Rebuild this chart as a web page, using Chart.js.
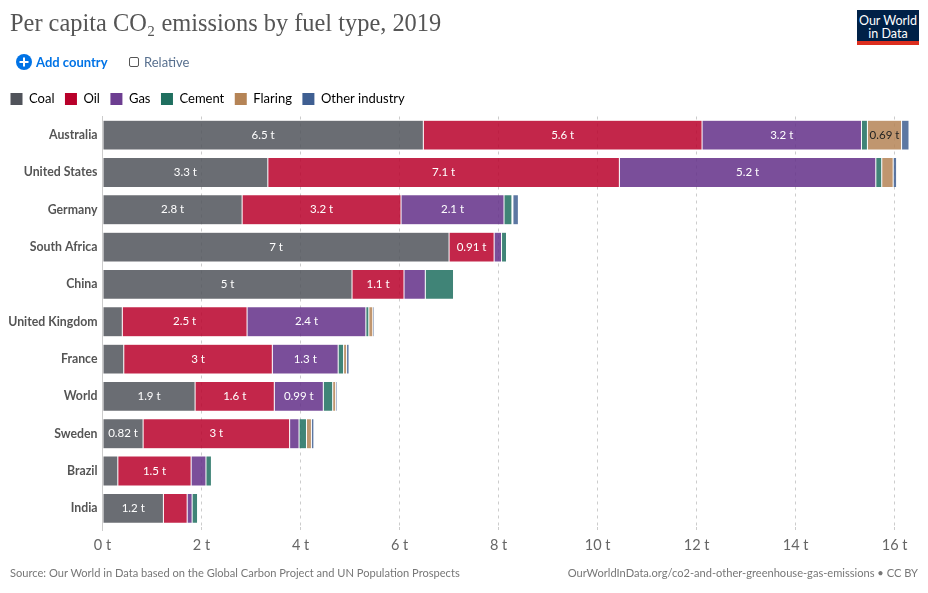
<!DOCTYPE html>
<html lang="en">

<head>
    <meta charset="UTF-8">
    <title>Per capita CO2 emissions by fuel type, 2019</title>
    <script src="https://cdn.jsdelivr.net/npm/chart.js"></script>

    <style>
        html, body { margin: 0; padding: 0; background: #fff; font-family: Lato, sans-serif; }
        .page { position: relative; width: 928px; height: 593px; overflow: hidden; }
        canvas { position: absolute; left: 0; top: 0; }
        .abs { position: absolute; white-space: nowrap; }
        .title { left: 10px; top: 8px; font: 24.4px/30px "Liberation Serif", serif; color: #555; }
        .logo { left: 857px; top: 10px; width: 62px; background: #002147; border-bottom: 4px solid #dc2e1e; color: #fff; text-align: center; font-size: 12.5px; line-height: 13px; padding-top: 4px; height: 27px; }
        .add { left: 36px; top: 54px; font-size: 13px; line-height: 16px; font-weight: 700; color: #0073e6; }
        .rel { left: 144px; top: 54px; font-size: 13px; line-height: 16px; color: #58708f; }
        .box { left: 129px; top: 57px; width: 8px; height: 8px; border: 1px solid #555; border-radius: 2px; }
        .foot { top: 566px; font-size: 11.1px; line-height: 14px; color: #777; }
    </style>
</head>

<body>
    <div class="page">
        <canvas id="fuelChart" width="928" height="593"></canvas>
        <div class="abs title">Per capita CO₂ emissions by fuel type, 2019</div>
        <div class="abs logo">Our World<br>in Data</div>
        <svg class="abs" style="left:16px;top:54px" width="16" height="16" viewBox="0 0 16 16">
            <circle cx="8" cy="8" r="8" fill="#0073e6"></circle>
            <path d="M8 3.5v9M3.5 8h9" stroke="#fff" stroke-width="2"></path>
        </svg>
        <div class="abs add">Add country</div>
        <div class="abs box"></div>
        <div class="abs rel">Relative</div>
        <div class="abs foot" style="left:10px">Source: Our World in Data based on the Global Carbon Project and UN Population Prospects</div>
        <div class="abs foot" style="right:10px">OurWorldInData.org/co2-and-other-greenhouse-gas-emissions • CC BY</div>
    </div>

    <script>
        const countries = ['Australia', 'United States', 'Germany', 'South Africa', 'China', 'United Kingdom', 'France', 'World', 'Sweden', 'Brazil', 'India'];
        const coal = [6.48, 3.34, 2.82, 7.0, 5.04, 0.4, 0.43, 1.87, 0.82, 0.31, 1.23];
        const oil = [5.63, 7.1, 3.21, 0.91, 1.05, 2.52, 3.0, 1.6, 2.96, 1.48, 0.48];
        const gas = [3.22, 5.18, 2.08, 0.15, 0.43, 2.4, 1.33, 0.99, 0.19, 0.3, 0.1];
        const cement = [0.12, 0.12, 0.16, 0.1, 0.57, 0.06, 0.11, 0.19, 0.15, 0.11, 0.11];
        const flaring = [0.69, 0.23, 0.02, 0.0, 0.0, 0.08, 0.06, 0.06, 0.1, 0.02, 0.0];
        const otherIndustry = [0.15, 0.07, 0.11, 0.02, 0.02, 0.03, 0.05, 0.03, 0.05, 0.01, 0.01];
        const tickValues = [0, 2, 4, 6, 8, 10, 12, 14, 16];

        const fuels = [
            { label: 'Coal', data: coal, color: '#50535a', fill: '#50535ad9', text: '#fff' },
            { label: 'Oil', data: oil, color: '#b8002a', fill: '#b8002ad9', text: '#fff' },
            { label: 'Gas', data: gas, color: '#6d3e91', fill: '#632f88d9', text: '#fff' },
            { label: 'Cement', data: cement, color: '#1f6f5f', fill: '#1f6f5fd9', text: '#fff' },
            { label: 'Flaring', data: flaring, color: '#b58456', fill: '#b58456d9', text: '#222' },
            { label: 'Other industry', data: otherIndustry, color: '#3f5f92', fill: '#3f5f92d9', text: '#fff' }
        ];

        // value labels inside the segments, only where the text fits
        const segmentLabels = {
            id: 'segmentLabels',
            afterDatasetsDraw(chart) {
                const ctx = chart.ctx;
                ctx.save();
                ctx.font = '11.5px Lato';
                ctx.textAlign = 'center';
                ctx.textBaseline = 'middle';
                chart.data.datasets.forEach((ds, i) => {
                    ctx.fillStyle = fuels[i].text;
                    chart.getDatasetMeta(i).data.forEach((bar, j) => {
                        const text = Number(ds.data[j].toPrecision(2)) + ' t';
                        const w = Math.abs(bar.x - bar.base);
                        if (ctx.measureText(text).width + 2 < w) {
                            ctx.fillText(text, (bar.x + bar.base) / 2, bar.y);
                        }
                    });
                });
                ctx.restore();
            }
        };

        // one more pixel of space between the legend and the bars
        const legendGap = {
            id: 'legendGap',
            beforeInit(chart) {
                const fit = chart.legend.fit;
                chart.legend.fit = function () {
                    fit.call(this);
                    this.height += 1;
                };
            }
        };

        new Chart(document.getElementById('fuelChart'), {
            type: 'bar',
            data: {
                labels: countries,
                datasets: fuels.map(f => ({
                    label: f.label,
                    data: f.data,
                    backgroundColor: f.fill,
                    borderColor: 'rgba(255,255,255,0.2)',
                    borderWidth: 0.5,
                    borderSkipped: false,
                    barPercentage: 0.8,
                    categoryPercentage: 1
                }))
            },
            plugins: [segmentLabels, legendGap],
            options: {
                indexAxis: 'y',
                responsive: false,
                animation: false,
                layout: { padding: { top: 82, right: 19, bottom: 38.5, left: 0 } },
                plugins: {
                    tooltip: { enabled: false },
                    legend: {
                        position: 'top',
                        align: 'start',
                        labels: {
                            boxWidth: 12,
                            boxHeight: 12,
                            padding: 10.5,
                            color: '#333',
                            font: { family: 'Lato', size: 13 },
                            generateLabels: chart => fuels.map((f, i) => ({
                                text: f.label,
                                fillStyle: f.color,
                                strokeStyle: f.color,
                                lineWidth: 0,
                                datasetIndex: i
                            }))
                        }
                    }
                },
                scales: {
                    x: {
                        type: 'linear',
                        stacked: true,
                        min: 0,
                        max: 16.29,
                        afterBuildTicks: axis => { axis.ticks = tickValues.map(v => ({ value: v })); },
                        afterFit: axis => { axis.height = 27.5; },
                        border: { display: false, dash: [3, 4] },
                        grid: {
                            color: '#ccc',
                            tickLength: 4,
                            tickColor: '#ccc',
                            tickBorderDash: c => (c.tick && c.tick.value === 0 ? [] : [3, 4])
                        },
                        ticks: {
                            color: '#666',
                            padding: 6,
                            maxRotation: 0,
                            font: { family: 'Lato', size: 14.5 },
                            callback: v => v + ' t'
                        }
                    },
                    y: {
                        stacked: true,
                        afterFit: axis => { axis.width = 102.5; },
                        border: { display: true, color: '#ccc', width: 1 },
                        grid: { display: false, drawTicks: false, tickLength: 0 },
                        ticks: {
                            color: '#555',
                            padding: 5,
                            font: { family: 'Lato', size: 12.3, weight: 700 }
                        }
                    }
                }
            }
        });
    </script>
</body>

</html>
